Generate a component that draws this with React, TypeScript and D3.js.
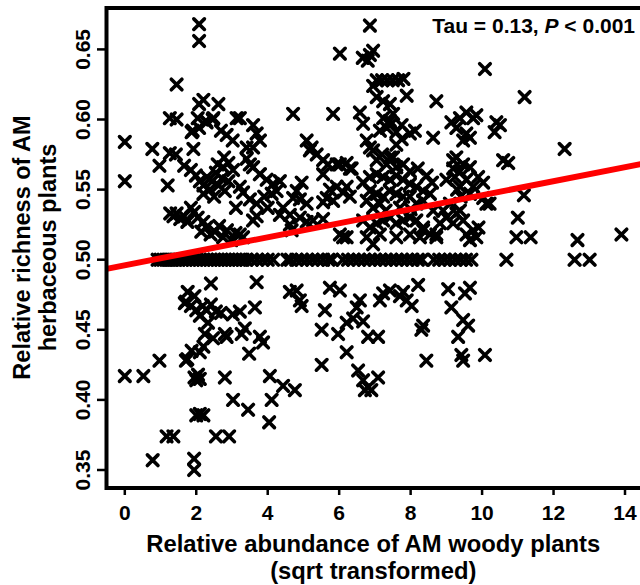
import React from 'react';
import * as d3 from 'd3';

const xTicks = [0, 2, 4, 6, 8, 10, 12, 14];
const yTicks = [0.35, 0.4, 0.45, 0.5, 0.55, 0.6, 0.65];

const xTitle = ['Relative abundance of AM woody plants', '(sqrt transformed)'];
const yTitle = ['Relative richness of AM', 'herbaceous plants'];

// woody abundance values of sites whose herbaceous richness is exactly 0.50
const halfRowX = [
  0.92, 1.0, 1.08, 1.16, 1.25, 1.33, 1.42, 1.5, 1.6, 1.7, 1.8, 1.9, 2.0, 2.1, 2.2, 2.3, 2.4, 2.5,
  2.6, 2.7, 2.8, 2.9, 3.0, 3.1, 3.2, 3.3, 3.4, 3.55, 3.7, 3.85, 4.0, 4.15,
  4.55, 4.65, 4.8, 4.95, 5.1, 5.25, 5.4, 5.55, 5.7, 5.8,
  6.1, 6.25, 6.4, 6.55, 6.7, 6.85, 7.0, 7.15, 7.3, 7.45, 7.6, 7.75, 7.9, 8.05, 8.2, 8.32,
  8.65, 8.8, 8.95, 9.1, 9.25, 9.4, 9.55, 9.7,
  10.68, 12.59, 13.01,
];

const aboveHalf: [number, number][] = [
  [0, 0.584], [0, 0.556], [0.77, 0.579], [0.97, 0.567], [1.2, 0.553], [1.26, 0.601], [1.26, 0.576],
  [1.45, 0.625], [1.45, 0.6], [1.43, 0.575], [1.27, 0.533], [1.36, 0.531], [1.45, 0.533], [1.55, 0.529],
  [1.66, 0.531], [1.75, 0.527],
  [2.08, 0.668], [2.08, 0.656], [2.08, 0.611], [2.2, 0.614], [2.04, 0.601], [2.27, 0.599], [2.46, 0.6],
  [1.9, 0.592], [2.08, 0.594], [1.92, 0.579], [1.87, 0.591], [2.29, 0.598], [1.66, 0.567], [1.85, 0.564],
  [1.99, 0.56], [1.85, 0.537], [1.94, 0.534], [2.04, 0.53], [2.1, 0.556], [2.2, 0.553], [2.3, 0.559],
  [2.38, 0.55], [2.45, 0.556], [2.55, 0.562], [2.62, 0.553], [2.72, 0.558], [2.8, 0.549], [2.9, 0.556],
  [2.2, 0.547], [2.5, 0.545], [2.28, 0.523], [2.4, 0.518], [2.52, 0.52], [2.64, 0.524], [2.75, 0.516],
  [2.86, 0.521], [2.98, 0.514], [3.1, 0.519], [2.2, 0.527], [2.14, 0.52], [2.6, 0.568], [2.75, 0.566],
  [2.9, 0.569], [3.03, 0.564],
  [2.62, 0.611], [2.48, 0.601], [2.69, 0.592], [2.85, 0.589], [3.13, 0.601], [2.78, 0.573], [3.02, 0.585],
  [3.59, 0.596], [3.69, 0.59], [3.78, 0.585], [3.59, 0.58], [3.41, 0.58], [3.41, 0.572], [3.5, 0.568],
  [3.59, 0.566], [3.22, 0.601], [3.11, 0.537], [3.22, 0.552], [3.31, 0.548], [3.5, 0.543], [3.69, 0.54],
  [3.78, 0.561], [3.97, 0.557], [4.15, 0.554], [3.69, 0.531], [3.59, 0.528], [3.22, 0.518], [3.31, 0.516],
  [3.9, 0.545], [4.0, 0.537],
  [4.34, 0.556], [4.25, 0.549], [4.11, 0.547], [4.95, 0.555], [4.81, 0.549], [4.71, 0.544], [4.9, 0.543],
  [5.09, 0.54], [4.43, 0.537], [4.62, 0.532], [4.34, 0.532], [4.9, 0.53], [5.09, 0.527], [5.27, 0.528],
  [5.55, 0.529], [4.62, 0.525], [4.67, 0.521], [4.71, 0.604], [5.83, 0.604], [5.09, 0.585], [5.18, 0.578],
  [5.37, 0.575], [5.23, 0.58], [5.55, 0.571], [5.69, 0.568], [6.02, 0.568], [6.21, 0.569], [6.35, 0.565],
  [5.55, 0.561], [5.74, 0.55], [5.93, 0.552], [6.11, 0.548], [6.21, 0.552], [5.65, 0.544], [5.83, 0.542],
  [5.55, 0.541], [6.02, 0.518], [6.11, 0.516], [6.21, 0.516], [6.02, 0.647], [6.3, 0.545],
  [6.86, 0.667], [6.66, 0.644], [6.86, 0.646], [6.95, 0.649], [6.8, 0.642], [6.95, 0.624], [7.05, 0.628],
  [7.2, 0.628], [7.35, 0.628], [7.5, 0.628], [7.65, 0.628], [7.8, 0.629], [7.89, 0.617], [7.05, 0.616],
  [7.23, 0.613], [7.42, 0.611], [8.72, 0.613], [6.58, 0.605], [6.67, 0.597], [7.23, 0.601], [7.42, 0.599],
  [7.51, 0.604], [7.33, 0.594], [7.14, 0.592], [7.46, 0.597], [7.6, 0.591], [7.75, 0.596], [8.12, 0.592],
  [8.63, 0.587], [7.98, 0.59], [7.75, 0.586], [7.6, 0.582], [6.77, 0.585], [6.86, 0.58], [6.95, 0.578],
  [7.51, 0.573], [7.33, 0.568], [7.6, 0.566], [7.05, 0.571], [7.2, 0.575],
  [6.67, 0.555], [6.86, 0.559], [7.05, 0.561], [7.23, 0.559], [7.42, 0.557], [7.6, 0.56], [7.79, 0.557],
  [7.98, 0.554], [8.16, 0.552], [8.35, 0.549], [8.54, 0.547], [6.86, 0.549], [7.05, 0.547], [7.23, 0.545],
  [7.42, 0.549], [7.6, 0.547], [7.79, 0.545], [6.77, 0.542], [6.95, 0.537], [7.14, 0.54], [7.98, 0.545],
  [8.16, 0.54], [8.35, 0.542], [6.3, 0.565], [5.93, 0.568],
  [6.67, 0.528], [6.86, 0.523], [7.05, 0.526], [7.23, 0.528], [7.42, 0.53], [7.6, 0.526], [7.79, 0.528],
  [7.98, 0.53], [8.16, 0.528], [8.35, 0.523], [8.54, 0.518], [8.72, 0.516], [6.77, 0.516], [6.95, 0.511],
  [7.14, 0.518], [7.6, 0.516], [7.98, 0.518], [8.26, 0.516], [7.3, 0.535], [7.7, 0.537], [8.0, 0.536],
  [7.42, 0.573], [7.79, 0.568], [7.98, 0.563], [8.2, 0.565], [8.45, 0.56], [8.6, 0.555],
  [10.08, 0.636], [9.56, 0.605], [9.75, 0.601], [9.38, 0.601], [9.14, 0.598], [9.28, 0.594], [10.4, 0.598],
  [10.35, 0.591], [10.5, 0.596], [9.47, 0.585], [9.56, 0.59], [9.84, 0.603], [9.66, 0.587], [9.19, 0.571],
  [9.28, 0.573], [9.47, 0.568], [9.38, 0.563], [9.19, 0.565], [9.66, 0.566], [9.0, 0.557], [9.24, 0.559],
  [9.56, 0.557], [9.89, 0.559], [10.03, 0.555], [9.38, 0.552], [9.75, 0.552], [9.66, 0.547], [10.21, 0.54],
  [10.03, 0.544], [10.12, 0.54], [10.59, 0.571], [10.73, 0.569], [11.19, 0.616], [12.31, 0.579],
  [11.17, 0.546], [11.0, 0.53], [10.96, 0.516], [11.36, 0.516], [12.67, 0.514], [13.9, 0.518],
  [9.47, 0.528], [9.75, 0.521], [9.84, 0.516], [9.66, 0.514], [9.56, 0.518], [9.19, 0.526], [9.38, 0.535],
  [8.82, 0.526], [9.0, 0.53], [8.63, 0.535], [8.91, 0.535], [9.28, 0.533], [9.9, 0.523], [8.35, 0.521],
  [8.72, 0.518], [9.1, 0.54], [9.4, 0.545], [9.3, 0.55],
];

const belowHalf: [number, number][] = [
  [0, 0.417], [0.52, 0.417], [0.97, 0.428], [0.78, 0.357], [1.17, 0.374], [1.36, 0.374],
  [2.41, 0.483], [1.76, 0.477], [1.95, 0.474], [1.71, 0.47], [1.85, 0.467], [2.0, 0.464], [2.18, 0.467],
  [2.41, 0.468], [2.55, 0.463], [2.69, 0.462], [3.02, 0.461], [2.1, 0.46], [2.29, 0.464], [2.33, 0.455],
  [1.68, 0.469], [2.24, 0.447], [2.2, 0.438], [2.1, 0.434], [1.87, 0.435], [2.47, 0.444], [2.85, 0.445],
  [2.8, 0.447], [1.75, 0.429], [1.71, 0.428], [1.95, 0.416], [2.0, 0.414], [2.05, 0.418], [2.1, 0.415],
  [2.0, 0.389], [2.1, 0.39], [2.2, 0.389], [1.94, 0.358], [1.94, 0.35], [2.55, 0.374], [2.92, 0.374],
  [2.8, 0.416], [3.03, 0.4], [3.45, 0.393],
  [3.69, 0.484], [4.62, 0.477], [4.81, 0.478], [4.9, 0.471], [4.95, 0.467], [3.64, 0.466], [3.22, 0.463],
  [3.36, 0.451], [3.27, 0.447], [3.78, 0.445], [3.87, 0.441], [3.48, 0.433], [4.06, 0.417], [4.43, 0.41],
  [4.76, 0.407], [4.11, 0.4], [4.04, 0.384],
  [5.74, 0.48], [6.02, 0.478], [5.6, 0.464], [5.51, 0.45], [5.97, 0.447], [6.21, 0.455], [6.39, 0.458],
  [6.49, 0.466], [6.58, 0.471], [6.67, 0.456], [6.81, 0.445], [5.51, 0.425], [6.21, 0.434], [6.53, 0.421],
  [6.67, 0.414], [6.81, 0.409], [6.72, 0.407], [7.09, 0.416], [6.9, 0.407], [7.09, 0.445],
  [7.23, 0.476], [7.42, 0.478], [7.7, 0.474], [7.89, 0.471], [8.03, 0.467], [8.21, 0.482], [7.14, 0.471],
  [7.79, 0.477], [9.05, 0.479], [9.66, 0.48], [9.52, 0.476], [9.14, 0.466], [8.35, 0.453], [8.3, 0.45],
  [9.47, 0.457], [9.61, 0.453], [9.33, 0.445], [8.44, 0.428], [9.42, 0.432], [9.47, 0.428], [10.08, 0.432],
];

const trendIntercept = 0.496;
const trendSlope = 0.005;

const FONT = '"Liberation Sans", Arial, Helvetica, sans-serif';

export default function App() {
  const W = 640;
  const H = 585;
  const frameLeft = 106.5;
  const frameTop = 8;
  const frameBottom = 488;
  const frameRight = 700;

  const x = d3.scaleLinear().domain([0, 14]).range([124.8, 625]);
  const y = d3.scaleLinear().domain([0.35, 0.65]).range([470, 49.4]);

  const points: [number, number][] = [
    ...aboveHalf,
    ...halfRowX.map((v) => [v, 0.5] as [number, number]),
    ...belowHalf,
  ];

  const x0 = x.invert(frameLeft);
  const x1 = x.invert(frameRight);
  const line = d3
    .line<number>()
    .x((d) => x(d))
    .y((d) => y(trendIntercept + trendSlope * d));

  const a = 5.3;
  const fmt = d3.format('.2f');

  return (
    <svg
      width={W}
      height={H}
      style={{ position: 'absolute', left: 0, top: 0, background: '#fff' }}
      fontFamily={FONT}
      fontWeight="bold"
    >
      <defs>
        <clipPath id="plotclip">
          <rect x={frameLeft} y={frameTop} width={frameRight - frameLeft} height={frameBottom - frameTop} />
        </clipPath>
      </defs>
      <rect x={0} y={0} width={W} height={H} fill="#fff" />

      <g clipPath="url(#plotclip)">
        {points.map(([px, py], i) => {
          const cx = x(px);
          const cy = y(py);
          return (
            <path
              key={i}
              d={`M${cx - a},${cy - a}L${cx + a},${cy + a}M${cx - a},${cy + a}L${cx + a},${cy - a}`}
              stroke="#000"
              strokeWidth={3.6}
              strokeLinecap="round"
              fill="none"
            />
          );
        })}
        <path d={line([x0, x1]) || ''} stroke="#ff0000" strokeWidth={6} fill="none" />
      </g>

      <rect
        x={frameLeft}
        y={frameTop}
        width={frameRight - frameLeft}
        height={frameBottom - frameTop}
        fill="none"
        stroke="#000"
        strokeWidth={4}
      />

      {xTicks.map((t) => (
        <g key={'xt' + t}>
          <line x1={x(t)} x2={x(t)} y1={frameBottom} y2={495} stroke="#000" strokeWidth={2.5} />
          <text x={x(t)} y={520} textAnchor="middle" fontSize={21}>
            {t}
          </text>
        </g>
      ))}

      {yTicks.map((t) => (
        <g key={'yt' + t}>
          <line x1={97} x2={frameLeft} y1={y(t)} y2={y(t)} stroke="#000" strokeWidth={2.5} />
          <text
            transform={`translate(90,${y(t)}) rotate(-90)`}
            textAnchor="middle"
            fontSize={21}
          >
            {fmt(t)}
          </text>
        </g>
      ))}

      <text x={373.3} y={552} textAnchor="middle" fontSize={23.8}>
        {xTitle[0]}
      </text>
      <text x={373.3} y={579} textAnchor="middle" fontSize={23.8}>
        {xTitle[1]}
      </text>

      <text transform={`translate(30,247.5) rotate(-90)`} textAnchor="middle" fontSize={23.5}>
        {yTitle[0]}
      </text>
      <text transform={`translate(56,247.5) rotate(-90)`} textAnchor="middle" fontSize={23.5}>
        {yTitle[1]}
      </text>

      <text x={635} y={33} textAnchor="end" fontSize={21}>
        Tau = 0.13, <tspan fontStyle="italic">P</tspan> &lt; 0.001
      </text>
    </svg>
  );
}
